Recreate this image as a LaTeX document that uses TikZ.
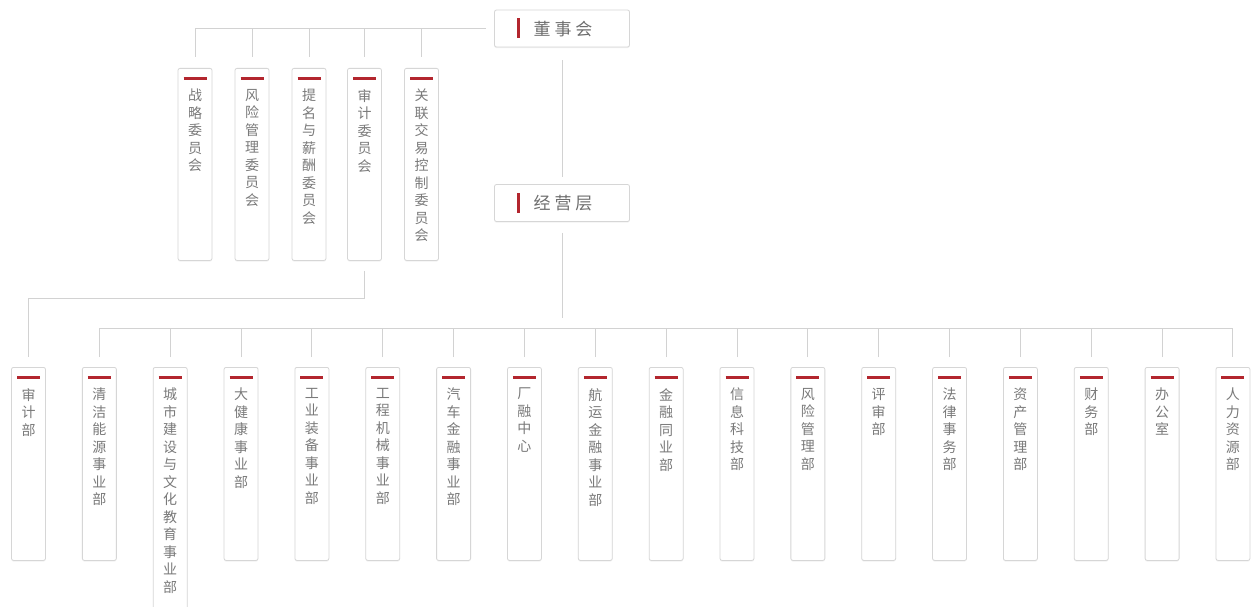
\documentclass[tikz,border=0pt]{standalone}
\usepackage{fontspec}
\newfontfamily\cjk{Noto Sans CJK SC}
\usetikzlibrary{shadows}
\definecolor{linegray}{HTML}{D2D2D2}
\definecolor{boxgray}{HTML}{D6D6D6}
\definecolor{txtgray}{HTML}{7A7A7A}
\definecolor{barred}{HTML}{B3262E}
\begin{document}
\begin{tikzpicture}[x=1pt,y=-1pt,
  conn/.style={draw=linegray, line width=1pt},
  shadowed/.style={drop shadow={shadow xshift=0pt, shadow yshift=-1.2pt, opacity=0.10}},
  headbox/.style={draw=boxgray, fill=white, rounded corners=2pt, line width=0.8pt, shadowed,
    minimum width=135pt, minimum height=37pt, inner sep=0pt},
  headtxt/.style={font=\cjk\fontsize{17}{20}\selectfont, text=txtgray!90!black, inner sep=0pt},
  colbox/.style={draw=boxgray, fill=white, rounded corners=2pt, line width=0.8pt, shadowed,
    minimum width=34pt, minimum height=#1, inner sep=0pt, anchor=north,
    path picture={\draw[barred, line width=2.6pt]
      ([xshift=-11.5pt,yshift=-10pt]path picture bounding box.north) --
      ([xshift=11.5pt,yshift=-10pt]path picture bounding box.north);}},
  colbox/.default=193pt,
  coltxt/.style={font=\cjk\fontsize{14}{17.5}\selectfont, text=txtgray, align=center,
    inner sep=0pt, anchor=north}
]
\useasboundingbox[fill=white] (0,0) rectangle (1252,607);

% head boxes
\node[headbox] (board) at (562,28.5) {};
\node[headtxt] (boardt) at (563,29) {董\hspace{4pt}事\hspace{4pt}会};
\draw[barred, line width=2.6pt] ([xshift=24.5pt,yshift=10pt]board.west) -- ([xshift=24.5pt,yshift=-10pt]board.west);
\node[headbox] (mgmt) at (562,203) {};
\node[headtxt] (mgmtt) at (563,203.5) {经\hspace{4pt}营\hspace{4pt}层};
\draw[barred, line width=2.6pt] ([xshift=24.5pt,yshift=10pt]mgmt.west) -- ([xshift=24.5pt,yshift=-10pt]mgmt.west);

% committees
\foreach \n/\x/\t in {c1/195/{战\\略\\委\\员\\会},
                      c2/252/{风\\险\\管\\理\\委\\员\\会},
                      c3/309/{提\\名\\与\\薪\\酬\\委\\员\\会},
                      c4/364.5/{审\\计\\委\\员\\会},
                      c5/421.5/{关\\联\\交\\易\\控\\制\\委\\员\\会}}{
  \node[colbox=192pt] (\n) at (\x,68) {};
  \node[coltxt] (\n t) at ([yshift=-21pt]\n.north) {\t};
}

% departments
\foreach \n/\k/\t in {d1/0/{审\\计\\部},
                      d2/1/{清\\洁\\能\\源\\事\\业\\部},
                      d4/3/{大\\健\\康\\事\\业\\部},
                      d5/4/{工\\业\\装\\备\\事\\业\\部},
                      d6/5/{工\\程\\机\\械\\事\\业\\部},
                      d7/6/{汽\\车\\金\\融\\事\\业\\部},
                      d8/7/{厂\\融\\中\\心},
                      d9/8/{航\\运\\金\\融\\事\\业\\部},
                      d10/9/{金\\融\\同\\业\\部},
                      d11/10/{信\\息\\科\\技\\部},
                      d12/11/{风\\险\\管\\理\\部},
                      d13/12/{评\\审\\部},
                      d14/13/{法\\律\\事\\务\\部},
                      d15/14/{资\\产\\管\\理\\部},
                      d16/15/{财\\务\\部},
                      d17/16/{办\\公\\室},
                      d18/17/{人\\力\\资\\源\\部}}{
  \node[colbox] (\n) at (28.5+70.85*\k,367) {};
  \node[coltxt] (\n t) at ([yshift=-21pt]\n.north) {\t};
}
\node[colbox=260pt] (d3) at (28.5+70.85*2,367) {};
\node[coltxt] (d3t) at ([yshift=-21pt]d3.north) {城\\市\\建\\设\\与\\文\\化\\教\\育\\事\\业\\部};

% connectors: board to committees
\draw[conn] ([yshift=11pt]c1.north) |- ([xshift=-8pt]board.west);
\foreach \n in {c2,c3,c4,c5}{
  \draw[conn] ([yshift=11pt]\n.north) -- (\n.north |- board.west);
}
% board to management
\draw[conn, shorten <=13pt, shorten >=7pt] (board) -- (mgmt);
% management to departments
\coordinate (bus) at (562,328);
\draw[conn] ([yshift=-11pt]mgmt.south) -- ([yshift=10pt]bus);
\draw[conn] ([yshift=10pt]d2.north) -- ([yshift=39pt]d2.north) -- ([yshift=39pt]d18.north) -- ([yshift=10pt]d18.north);
\foreach \n in {d3,d4,d5,d6,d7,d8,d9,d10,d11,d12,d13,d14,d15,d16,d17}{
  \draw[conn] ([yshift=10pt]\n.north) -- ([yshift=39pt]\n.north);
}
% audit committee to audit department
\draw[conn] ([yshift=-10pt]c4.south) -- ++(0,-28pt) -| ([yshift=10pt]d1.north);
\end{tikzpicture}
\end{document}
